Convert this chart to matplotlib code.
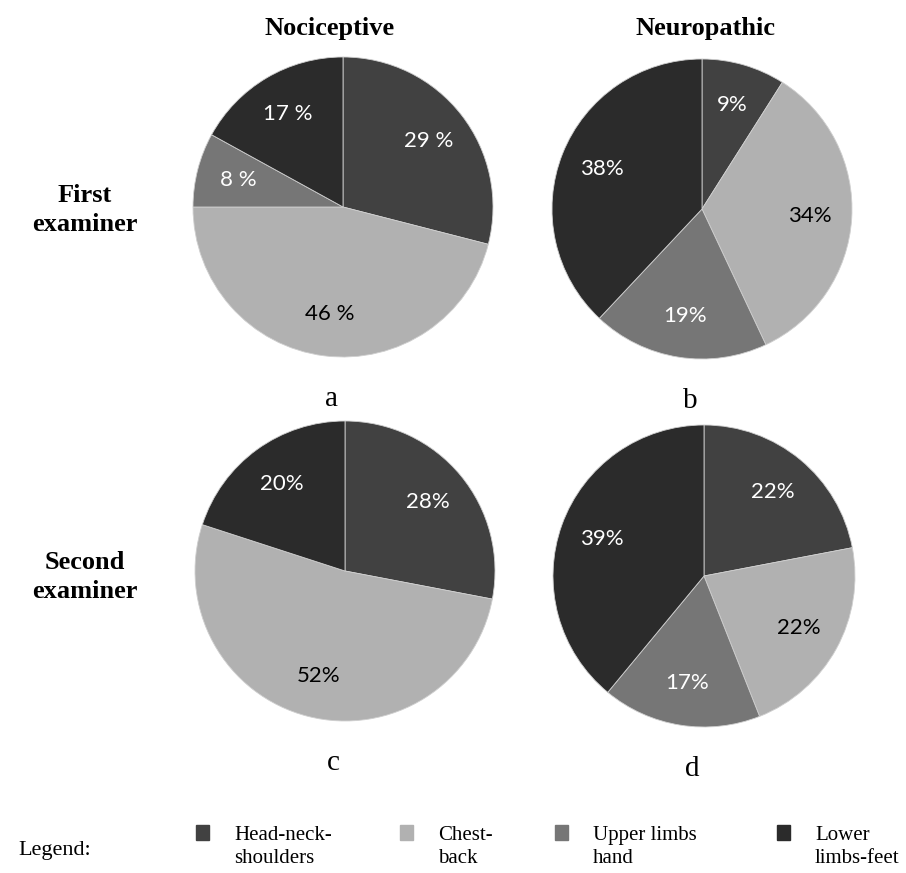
import matplotlib
matplotlib.use("Agg")
import matplotlib.pyplot as plt

# body regions, clockwise from 12 o'clock
regions = ["Head-neck-\nshoulders", "Chest-\nback", "Upper limbs\nhand", "Lower\nlimbs-feet"]
colors = ["#414141", "#b1b1b1", "#767676", "#2b2b2b"]
text_colors = ["white", "black", "white", "white"]

# percentages per panel
noci_first = [29, 46, 8, 17]
neuro_first = [9, 34, 19, 38]
noci_second = [28, 52, 0, 20]
neuro_second = [22, 22, 17, 39]

col_titles = ["Nociceptive", "Neuropathic"]
row_titles = ["First\nexaminer", "Second\nexaminer"]
panel_letters = ["a", "b", "c", "d"]
pct_formats = ["{} %", "{}%", "{}%", "{}%"]

W, H = 906, 873
SERIF = "Liberation Serif"
SANS = "Lato"

fig = plt.figure(figsize=(W / 100, H / 100), dpi=100)


def pie_axes(cx, cy, r):
    """axes in pixel coords, centre (cx, cy) from top-left, radius r"""
    ax = fig.add_axes([(cx - r) / W, 1 - (cy + r) / H, 2 * r / W, 2 * r / H])
    return ax


def draw_pie(ax, values, fmt):
    idx = [i for i, v in enumerate(values) if v > 0]
    vals = [values[i] for i in idx]
    wedges, _, autotexts = ax.pie(
        vals, colors=[colors[i] for i in idx], startangle=90, counterclock=False,
        radius=1.0, autopct="%d%%", pctdistance=0.72,
        wedgeprops=dict(edgecolor="#cfcfcf", linewidth=0.6),
    )
    for t, i, v in zip(autotexts, idx, vals):
        t.set_text(fmt.format(v))
        t.set_color(text_colors[i])
        t.set_fontsize(16)
        t.set_fontfamily(SANS)
    # pie() pads the limits, pin them to the radius
    ax.set_xlim(-1, 1)
    ax.set_ylim(-1, 1)
    ax.set_aspect("equal")
    ax.axis("off")


panels = [
    (343, 207, 150, noci_first),
    (702, 209, 150, neuro_first),
    (345, 571, 150, noci_second),
    (704, 576, 151, neuro_second),
]
for (cx, cy, r, vals), letter, fmt in zip(panels, panel_letters, pct_formats):
    ax = pie_axes(cx, cy, r)
    draw_pie(ax, vals, fmt)
    fig.text((cx - 12) / W, 1 - (cy + r + 42) / H, letter, ha="center", va="center",
             fontsize=21, family=SERIF)

# column headings
for x, t in zip([330, 705], col_titles):
    fig.text(x / W, 1 - 28 / H, t, ha="center", va="center",
             fontsize=19, fontweight="bold", family=SERIF)

# row headings
for y, t in zip([210, 577], row_titles):
    fig.text(85 / W, 1 - y / H, t, ha="center", va="center", linespacing=1.3,
             fontsize=19, fontweight="bold", family=SERIF)

# legend strip along the bottom
fig.text(18 / W, 1 - 851 / H, "Legend:", ha="left", va="center", fontsize=16, family=SERIF)
sq_x = [196, 400, 555, 777]
for x, name, c in zip(sq_x, regions, colors):
    fig.patches.append(plt.Rectangle((x / W, 1 - 840 / H), 13 / W, 15 / H,
                                     transform=fig.transFigure, color=c))
    fig.text((x + 38) / W, 1 - 847 / H, name, ha="left", va="center",
             fontsize=15, family=SERIF, linespacing=1.3)

fig.savefig("out.png", dpi=100, facecolor="white")
